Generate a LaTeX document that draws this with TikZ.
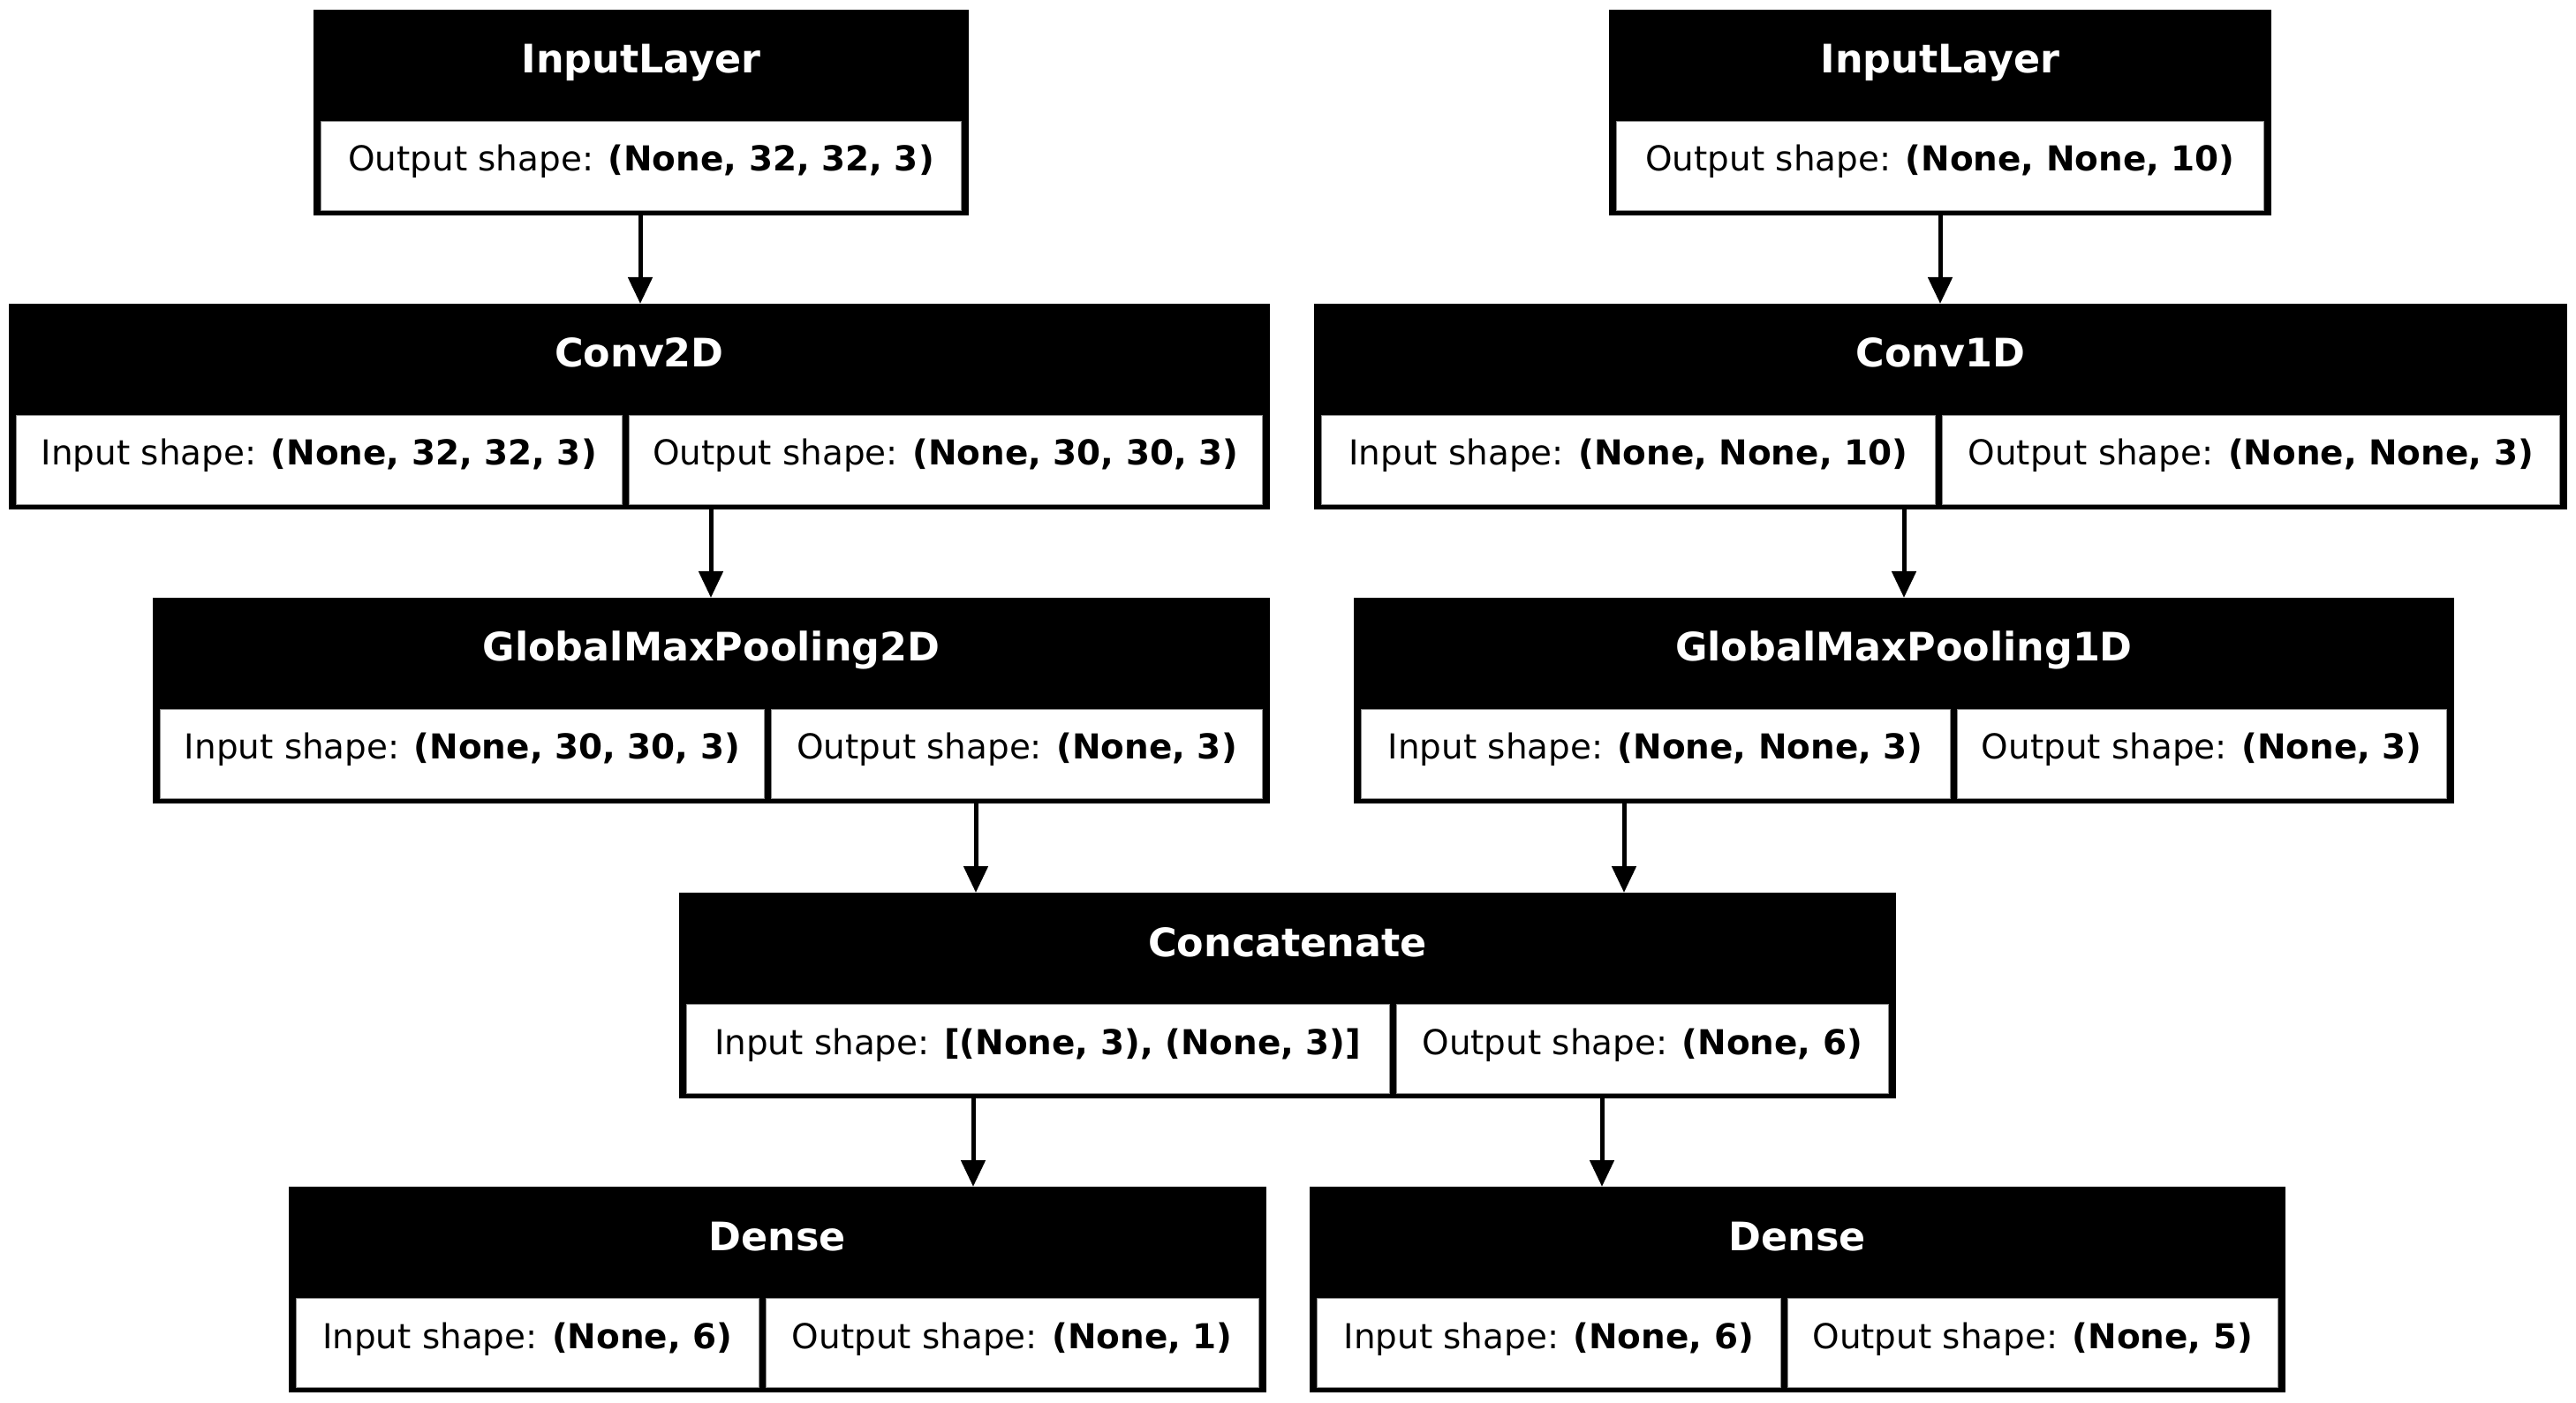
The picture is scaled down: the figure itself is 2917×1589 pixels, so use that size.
\documentclass[tikz,border=0pt]{standalone}
\usepackage{fontspec}
\setmainfont{DejaVu Sans}
\usetikzlibrary{arrows.meta,fit}
\tikzset{
  outerbox/.style={fill=black, inner sep=0pt, outer sep=0pt},
  cellbox/.style={fill=white, draw=black!45, line width=0.25pt, inner sep=0pt, outer sep=0pt},
  headtxt/.style={anchor=base, inner sep=0pt, text=white, font=\fontsize{16pt}{18pt}\selectfont\bfseries},
  celltxt/.style={anchor=base, inner sep=0pt, text=black, font=\fontsize{14pt}{16pt}\selectfont},
  arr/.style={line width=1.8pt, -{Triangle[length=10.8pt, width=9.7pt]}}
}
\newcommand{\onecell}[6]{%
  \node[outerbox, fit={(#2,#4) (#3,#4+233)}] (#1) {};
  \node[headtxt] (#1-h) at ({(#2+#3)/2}, #4+72) {#5};
  \node[cellbox, fit={(#2+8.5,#4+126) (#3-8.5,#4+227)}] (#1-c) {};
  \node[celltxt] (#1-ct) at ({(#2+#3)/2}, #4+183) {#6};
}
\newcommand{\twocell}[8]{%
  \node[outerbox, fit={(#2,#4) (#3,#4+233)}] (#1) {};
  \node[headtxt] (#1-h) at ({(#2+#3)/2}, #4+72) {#6};
  \node[cellbox, fit={(#2+8.5,#4+126) (#5-4,#4+227)}] (#1-l) {};
  \node[cellbox, fit={(#5+4,#4+126) (#3-8.5,#4+227)}] (#1-r) {};
  \node[celltxt] (#1-lt) at ({(#2+8.5+#5-4)/2}, #4+183) {#7};
  \node[celltxt] (#1-rt) at ({(#5+4+#3-8.5)/2}, #4+183) {#8};
}
\begin{document}
\begin{tikzpicture}[x=0.36pt, y=-0.36pt]
  \fill[white] (0,0) rectangle (2917,1589);
  \useasboundingbox (0,0) rectangle (2917,1589);

  \onecell{il1}{355}{1097}{11}{InputLayer}{Output shape: \textbf{(None, 32, 32, 3)}}
  \onecell{il2}{1822}{2572}{11}{InputLayer}{Output shape: \textbf{(None, None, 10)}}

  \twocell{conv2d}{10}{1438}{344}{708}{Conv2D}{Input shape: \textbf{(None, 32, 32, 3)}}{Output shape: \textbf{(None, 30, 30, 3)}}
  \twocell{conv1d}{1488}{2907}{344}{2195}{Conv1D}{Input shape: \textbf{(None, None, 10)}}{Output shape: \textbf{(None, None, 3)}}

  \twocell{gmp2d}{173}{1438}{677}{869.5}{GlobalMaxPooling2D}{Input shape: \textbf{(None, 30, 30, 3)}}{Output shape: \textbf{(None, 3)}}
  \twocell{gmp1d}{1533}{2779}{677}{2212}{GlobalMaxPooling1D}{Input shape: \textbf{(None, None, 3)}}{Output shape: \textbf{(None, 3)}}

  \twocell{concat}{769}{2147}{1011}{1577}{Concatenate}{Input shape: \textbf{[(None, 3), (None, 3)]}}{Output shape: \textbf{(None, 6)}}

  \twocell{dense1}{327}{1434}{1344}{863}{Dense}{Input shape: \textbf{(None, 6)}}{Output shape: \textbf{(None, 1)}}
  \twocell{dense2}{1483}{2588}{1344}{2020}{Dense}{Input shape: \textbf{(None, 6)}}{Output shape: \textbf{(None, 5)}}

  \coordinate (ax1) at (725,0);
  \coordinate (ax2) at (2197,0);
  \coordinate (ax3) at (805,0);
  \coordinate (ax4) at (2156,0);
  \coordinate (ax5) at (1105,0);
  \coordinate (ax6) at (1839,0);
  \coordinate (ax7) at (1102,0);
  \coordinate (ax8) at (1814,0);

  \draw[arr] (il1.south -| ax1) -- (conv2d.north -| ax1);
  \draw[arr] (il2.south -| ax2) -- (conv1d.north -| ax2);
  \draw[arr] (conv2d.south -| ax3) -- (gmp2d.north -| ax3);
  \draw[arr] (conv1d.south -| ax4) -- (gmp1d.north -| ax4);
  \draw[arr] (gmp2d.south -| ax5) -- (concat.north -| ax5);
  \draw[arr] (gmp1d.south -| ax6) -- (concat.north -| ax6);
  \draw[arr] (concat.south -| ax7) -- (dense1.north -| ax7);
  \draw[arr] (concat.south -| ax8) -- (dense2.north -| ax8);
\end{tikzpicture}
\end{document}
